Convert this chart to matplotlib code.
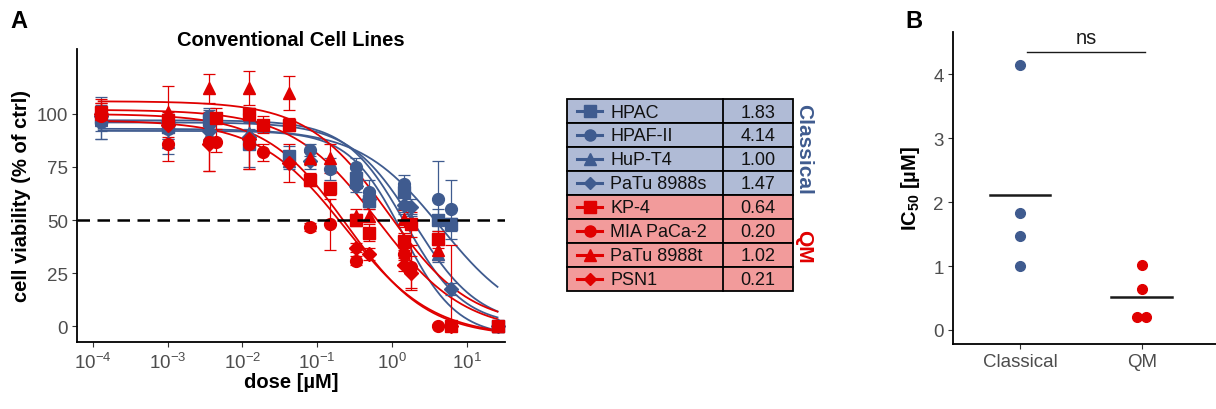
import numpy as np
import matplotlib
matplotlib.use("Agg")
import matplotlib.pyplot as plt
from matplotlib.patches import Rectangle

plt.rcParams['font.family'] = ['Liberation Sans', 'DejaVu Sans']
plt.rcParams['mathtext.fontset'] = 'custom'
plt.rcParams['mathtext.rm'] = 'Liberation Sans'
plt.rcParams['mathtext.bf'] = 'Liberation Sans:bold'

BLUE = '#3F5B8F'
RED = '#E00000'
GREY = '#4D4D4D'

# cell lines, group and IC50 (uM)
lines = ['HPAC', 'HPAF-II', 'HuP-T4', 'PaTu 8988s', 'KP-4', 'MIA PaCa-2', 'PaTu 8988t', 'PSN1']
groups = ['Classical'] * 4 + ['QM'] * 4
ic50 = [1.83, 4.14, 1.00, 1.47, 0.64, 0.20, 1.02, 0.21]
markers = ['s', 'o', '^', 'D', 's', 'o', '^', 'D']

# dose-response points (dose uM, viability %, sd)
hpac_dose = [1.3e-4, 1e-3, 3.6e-3, 1.23e-2, 4.2e-2, 0.335, 0.5, 1.45, 4.1, 6.2, 25.7]
hpac_via = [98, 94, 97, 86, 80, 70, 59, 63, 50, 48, 0]
hpac_sd = [10, 6, 5, 11, 5, 4, 4, 4, 5, 3, 1]

hpaf_dose = [1.3e-4, 1e-3, 3.6e-3, 1.23e-2, 7.9e-2, 0.148, 0.335, 0.5, 1.45, 4.1, 6.2]
hpaf_via = [96, 93, 99, 100, 83, 74, 75, 63, 67, 60, 55]
hpaf_sd = [8, 5, 4, 3, 3, 5, 4, 6, 4, 18, 14]

hupt4_dose = [1.3e-4, 1e-3, 3.6e-3, 1.23e-2, 4.2e-2, 0.335, 0.5, 1.45, 1.82, 4.1, 25.7]
hupt4_via = [97, 87, 90, 91, 78, 68, 60, 58, 50, 34, 0]
hupt4_sd = [5, 6, 4, 5, 4, 3, 4, 4, 3, 4, 1]

patu_s_dose = [1.3e-4, 1e-3, 3.6e-3, 1.23e-2, 7.9e-2, 0.335, 0.5, 1.45, 1.82, 6.2, 25.7]
patu_s_via = [99, 96, 92, 89, 78, 66, 60, 57, 56, 17.5, 0]
patu_s_sd = [4, 4, 4, 4, 4, 3, 3, 4, 4, 3, 1]

kp4_dose = [1.3e-4, 1e-3, 4.4e-3, 1.23e-2, 1.9e-2, 4.2e-2, 7.9e-2, 0.148, 0.335, 0.5, 1.45, 1.82, 4.1, 6.2, 25.7]
kp4_via = [101, 97, 98, 100, 95, 95, 69, 65, 50, 44, 40, 48, 41, 0, 0]
kp4_sd = [6, 4, 5, 3, 4, 3, 3, 3, 3, 4, 4, 6, 4, 38, 1]

mia_dose = [1.3e-4, 1e-3, 3.6e-3, 4.4e-3, 1.23e-2, 1.9e-2, 7.9e-2, 0.148, 0.335, 1.45, 1.82, 4.1]
mia_via = [99, 86, 87, 87, 86, 82, 46.7, 48, 30.8, 34, 28, 0]
mia_sd = [4, 8, 14, 5, 12, 4, 2, 12, 2, 3, 10, 1]

patu_t_dose = [1.3e-4, 1e-3, 3.6e-3, 1.23e-2, 4.2e-2, 7.9e-2, 0.148, 0.335, 0.5, 1.45, 4.1, 25.7]
patu_t_via = [100, 101, 112, 112, 110, 79, 79, 52, 52, 50.5, 36, 0]
patu_t_sd = [5, 12, 7, 8, 8, 3, 7, 3, 3, 4, 5, 1]

psn1_dose = [1.3e-4, 1e-3, 3.6e-3, 1.23e-2, 4.2e-2, 0.335, 0.5, 1.45, 1.82, 6.2]
psn1_via = [100, 95, 86, 88, 77, 37, 34, 29, 25, 0]
psn1_sd = [5, 4, 13, 14, 9, 2, 3, 3, 8, 1]

# fitted 4PL curve parameters
fit_top = [96, 93, 92, 97, 102, 97, 106, 100]
fit_bottom = [0, 0, -5, 0, -3, -5, 0, -5]
fit_ec50 = [2.0, 4.5, 1.4, 1.5, 0.65, 0.24, 0.9, 0.25]
fit_hill = [1.0, 0.8, 1.2, 1.1, 0.75, 0.75, 0.8, 0.8]

doses = [hpac_dose, hpaf_dose, hupt4_dose, patu_s_dose, kp4_dose, mia_dose, patu_t_dose, psn1_dose]
vias = [hpac_via, hpaf_via, hupt4_via, patu_s_via, kp4_via, mia_via, patu_t_via, psn1_via]
sds = [hpac_sd, hpaf_sd, hupt4_sd, patu_s_sd, kp4_sd, mia_sd, patu_t_sd, psn1_sd]

fig = plt.figure(figsize=(12.16, 4.10), dpi=100)

# ---------------- panel A
ax = fig.add_axes([77 / 1216, 67 / 410, 428 / 1216, 293 / 410])
xs = np.logspace(np.log10(1.2e-4), np.log10(25.7), 300)
for i in range(8):
    col = BLUE if groups[i] == 'Classical' else RED
    ys = fit_bottom[i] + (fit_top[i] - fit_bottom[i]) / (1 + (xs / fit_ec50[i]) ** fit_hill[i])
    ys = np.where(ys < -2.5, np.nan, ys)
    ax.plot(xs, ys, color=col, lw=1.3, zorder=2)
for i in range(8):
    col = BLUE if groups[i] == 'Classical' else RED
    d = np.array(doses[i])
    v = np.array(vias[i], dtype=float)
    s = np.array(sds[i], dtype=float)
    lo = np.minimum(s, v)
    ax.errorbar(d, v, yerr=[lo, s], fmt='none', ecolor=col, elinewidth=0.9,
                capsize=4.5, capthick=0.9, zorder=3)
    ms = 7 if markers[i] == 'D' else 8.5
    ax.plot(d, v, ls='none', marker=markers[i], ms=ms, color=col, mec=col, zorder=4)

ax.axhline(50, color='black', ls=(0, (5, 3)), lw=1.8, zorder=5)
ax.set_xscale('log')
ax.set_xlim(10 ** -4.21, 10 ** 1.51)
ax.set_ylim(-7.5, 130.6)
ax.set_yticks([0, 25, 50, 75, 100])
ax.set_xticks([1e-4, 1e-3, 1e-2, 1e-1, 1e0, 1e1])
ax.set_xticklabels([r'$10^{-4}$', r'$10^{-3}$', r'$10^{-2}$', r'$10^{-1}$', r'$10^{0}$', r'$10^{1}$'])
ax.minorticks_off()
for sp in ['top', 'right']:
    ax.spines[sp].set_visible(False)
for sp in ['left', 'bottom']:
    ax.spines[sp].set_linewidth(1.3)
ax.tick_params(length=3.5, width=0.8, color='#333333', labelcolor=GREY, labelsize=13.5, pad=3)
ax.set_title('Conventional Cell Lines', fontsize=14.5, fontweight='bold', pad=3)
ax.set_xlabel('dose [µM]', fontsize=14.5, fontweight='bold', labelpad=0)
ax.set_ylabel('cell viability (% of ctrl)', fontsize=14.5, fontweight='bold', labelpad=4)

# ---------------- legend table (pixel coordinates)
tab = fig.add_axes([0, 0, 1, 1], zorder=-1)
tab.set_xlim(0, 1216)
tab.set_ylim(410, 0)
tab.axis('off')
x0, x1, x2 = 567, 723, 793
top_y, row_h = 100, 24
for i in range(8):
    col = BLUE if groups[i] == 'Classical' else RED
    bg = '#B0BBD6' if groups[i] == 'Classical' else '#F29B9B'
    y = top_y + i * row_h
    tab.add_patch(Rectangle((x0, y), x2 - x0, row_h, facecolor=bg, edgecolor='black', lw=1.3))
    tab.plot([x1, x1], [y, y + row_h], color='black', lw=1.3)
    tab.plot([577, 602], [y + row_h / 2, y + row_h / 2], color=col, lw=2.2)
    ms = 6 if markers[i] == 'D' else 8
    tab.plot([589.5], [y + row_h / 2], marker=markers[i], ms=ms, color=col)
    tab.text(610, y + row_h / 2 + 1, lines[i], fontsize=13, va='center', ha='left', color='#111111')
    tab.text((x1 + x2) / 2, y + row_h / 2 + 1, f'{ic50[i]:.2f}', fontsize=13, va='center',
             ha='center', color='#111111')
tab.text(804, 149, 'Classical', rotation=-90, fontsize=15, fontweight='bold', color=BLUE,
         ha='center', va='center')
tab.text(804, 247, 'QM', rotation=-90, fontsize=15, fontweight='bold', color=RED,
         ha='center', va='center')
tab.text(10, 22, 'A', fontsize=17, fontweight='bold', ha='left', va='center')
tab.text(905, 22, 'B', fontsize=17, fontweight='bold', ha='left', va='center')

# ---------------- panel B
bx = fig.add_axes([953 / 1216, 65 / 410, 263 / 1216, 312 / 410])
cat_x = {'Classical': 1, 'QM': 2}
jitter = [0, 0, 0, 0, 0, -0.035, 0, 0.035]
for i in range(8):
    col = BLUE if groups[i] == 'Classical' else RED
    bx.plot(cat_x[groups[i]] + jitter[i], ic50[i], 'o', ms=7, color=col, zorder=3)
for g in ['Classical', 'QM']:
    vals = [ic50[i] for i in range(8) if groups[i] == g]
    m = np.mean(vals)
    bx.plot([cat_x[g] - 0.25, cat_x[g] + 0.25], [m, m], color='#1A1A1A', lw=1.8)
bx.plot([1.06, 2.03], [4.35, 4.35], color='#1A1A1A', lw=1.0)
bx.text(1.545, 4.43, 'ns', fontsize=14.5, ha='center', va='bottom', color='#1A1A1A')
bx.set_xlim(0.45, 2.61)
bx.set_ylim(-0.22, 4.66)
bx.set_xticks([1, 2])
bx.set_xticklabels(['Classical', 'QM'])
bx.set_yticks([0, 1, 2, 3, 4])
for sp in ['top', 'right']:
    bx.spines[sp].set_visible(False)
for sp in ['left', 'bottom']:
    bx.spines[sp].set_linewidth(1.3)
bx.tick_params(length=3.5, width=0.8, color='#333333', labelcolor=GREY, labelsize=13.5, pad=3)
bx.set_ylabel(r'$\mathbf{IC_{50}}$ [µM]', fontsize=14.5, fontweight='bold', labelpad=8)

fig.savefig('out.png', dpi=100)
